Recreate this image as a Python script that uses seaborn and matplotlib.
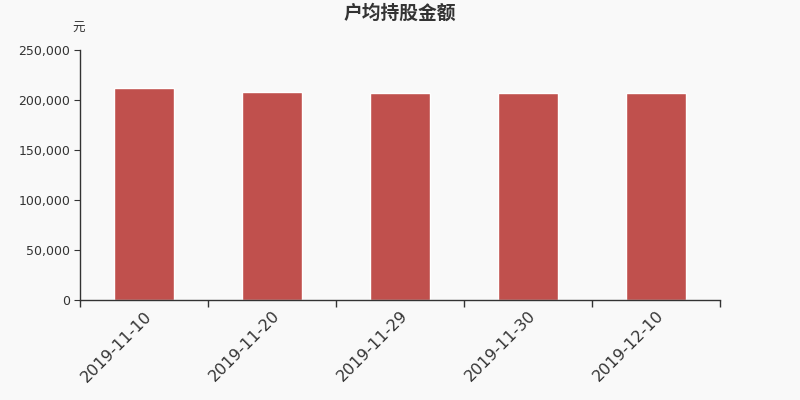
import matplotlib
matplotlib.use('Agg')
import matplotlib.pyplot as plt
import seaborn as sns
import pandas as pd
from matplotlib.ticker import FuncFormatter, FixedLocator

# Data
dates = ['2019-11-10', '2019-11-20', '2019-11-29', '2019-11-30', '2019-12-10']
amounts = [212200, 208000, 207000, 207000, 207500]

df = pd.DataFrame({'date': dates, 'amount': amounts})

sns.set_style('white')
plt.rcParams['font.family'] = ['DejaVu Sans', 'Noto Sans CJK SC']

bg = '#f9f9f9'
fig = plt.figure(figsize=(8, 4), dpi=100, facecolor=bg)
ax = fig.add_axes([0.1, 0.25, 0.8, 0.625])
ax.set_facecolor(bg)

sns.barplot(data=df, x='date', y='amount', color='#c0504d', width=0.47,
            saturation=1, ax=ax)

ax.set_xlim(-0.5, len(dates) - 0.5)
ax.set_ylim(0, 250000)
ax.set_yticks(range(0, 250001, 50000))
ax.yaxis.set_major_formatter(FuncFormatter(lambda v, p: f'{int(v):,}'))
ax.set_xlabel('')
ax.set_ylabel('')

for s in ['top', 'right']:
    ax.spines[s].set_visible(False)
for s in ['left', 'bottom']:
    ax.spines[s].set_color('#333333')
    ax.spines[s].set_linewidth(1)

ax.tick_params(axis='y', left=True, length=4, color='#333333', labelsize=9,
               labelcolor='#333333', pad=3)
ax.tick_params(axis='x', which='major', bottom=True, length=0, labelsize=11.5,
               labelcolor='#333333', pad=6)
ax.xaxis.set_minor_locator(FixedLocator([i - 0.5 for i in range(len(dates) + 1)]))
ax.tick_params(axis='x', which='minor', bottom=True, length=5, width=1,
               color='#333333', direction='out')
for lbl in ax.get_xticklabels():
    lbl.set_rotation(45)
    lbl.set_ha('right')
    lbl.set_rotation_mode('anchor')

fig.text(0.5, 0.967, '户均持股金额', ha='center', va='center', fontsize=13.5,
         fontweight='bold', color='#333333',
         family=['Noto Sans CJK SC', 'DejaVu Sans'])
fig.text(0.098, 0.93, '元', ha='center', va='center', fontsize=9, color='#333333',
         family=['Noto Sans CJK SC', 'DejaVu Sans'])

fig.savefig('out.png', dpi=100, facecolor=bg)
